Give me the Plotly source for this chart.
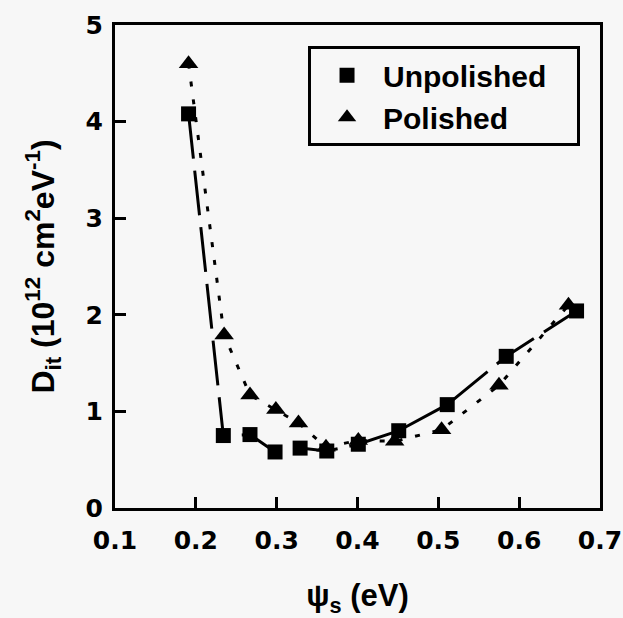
import plotly.graph_objects as go

unpol_x = [0.191, 0.234, 0.267, 0.298, 0.329, 0.362, 0.401, 0.451, 0.511, 0.584, 0.671]
unpol_y = [4.08, 0.75, 0.76, 0.58, 0.62, 0.59, 0.66, 0.80, 1.07, 1.57, 2.04]
pol_x = [0.191, 0.235, 0.267, 0.299, 0.327, 0.361, 0.401, 0.446, 0.504, 0.575, 0.661]
pol_y = [4.60, 1.79, 1.17, 1.02, 0.88, 0.63, 0.70, 0.69, 0.81, 1.27, 2.10]

x_ticks = [0.1, 0.2, 0.3, 0.4, 0.5, 0.6, 0.7]
y_ticks = [0, 1, 2, 3, 4, 5]

FONT = "Liberation Sans, Arial, sans-serif"
TICKFONT = "DejaVu Sans, sans-serif"
BG = "#f7f7f7"
PAD = "\u00a0\u00a0\u00a0"

fig = go.Figure()
fig.add_trace(go.Scatter(x=unpol_x, y=unpol_y, mode="lines+markers", showlegend=False,
                         line=dict(color="black", width=3, dash="45px,12px"),
                         marker=dict(symbol="square", size=15, color="black")))
fig.add_trace(go.Scatter(x=pol_x, y=pol_y, mode="lines+markers", showlegend=False,
                         line=dict(color="black", width=3, dash="5px,13px"),
                         marker=dict(symbol="triangle-up", size=17, color="black")))
fig.add_trace(go.Scatter(x=[None], y=[None], mode="markers", name="<b>Unpolished</b>" + PAD,
                         marker=dict(symbol="square", size=15, color="black")))
fig.add_trace(go.Scatter(x=[None], y=[None], mode="markers", name="<b>Polished</b>",
                         marker=dict(symbol="triangle-up", size=17, color="black")))

axis_common = dict(showline=True, linewidth=3, linecolor="black", mirror=True,
                   ticks="inside", ticklen=11, tickwidth=2.5, tickcolor="black",
                   showgrid=False, zeroline=False, automargin=False,
                   ticklabeloverflow="allow",
                   tickfont=dict(family=TICKFONT, size=25, color="black"))

fig.update_xaxes(range=[0.1, 0.7], tickvals=x_ticks, ticktext=[f"<b>{v:.1f}</b>" for v in x_ticks],
                 ticklabelstandoff=8,
                 title=dict(text="<b>ψ<sub>s</sub> (eV)</b>", standoff=40,
                            font=dict(family=FONT, size=31, color="black")),
                 **axis_common)
fig.update_yaxes(range=[0, 5], tickvals=y_ticks, ticktext=[f"<b>{v}</b>" for v in y_ticks],
                 ticklabelstandoff=4,
                 title=dict(text="<b>D<sub>it</sub> (10<sup>12</sup> cm<sup>2</sup>eV<sup>-1</sup>)</b>", standoff=22,
                            font=dict(family=FONT, size=32, color="black")),
                 **axis_common)

fig.update_layout(
    width=623, height=618,
    margin=dict(l=115, r=23, t=25, b=110),
    paper_bgcolor=BG, plot_bgcolor=BG,
    legend=dict(x=0.398, y=0.956, xanchor="left", yanchor="top",
                bgcolor=BG, bordercolor="black", borderwidth=3,
                font=dict(family=FONT, size=30, color="black"),
                itemwidth=62, tracegroupgap=0),
)

fig.write_html("out.html", config={"displayModeBar": False})
with open("out.html", "r", encoding="utf-8") as f:
    html = f.read()
html = html.replace("<head>", "<head><style>html,body{margin:0;padding:0;background:#f7f7f7;}</style>", 1)
with open("out.html", "w", encoding="utf-8") as f:
    f.write(html)
